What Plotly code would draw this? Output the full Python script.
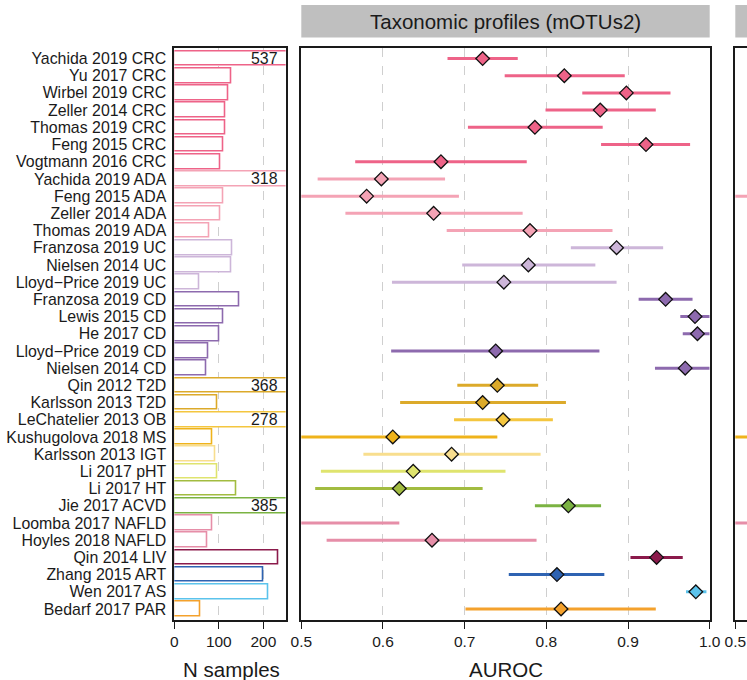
import plotly.graph_objects as go

# ---------------- data ----------------
names = ["Yachida 2019 CRC", "Yu 2017 CRC", "Wirbel 2019 CRC", "Zeller 2014 CRC",
         "Thomas 2019 CRC", "Feng 2015 CRC", "Vogtmann 2016 CRC", "Yachida 2019 ADA",
         "Feng 2015 ADA", "Zeller 2014 ADA", "Thomas 2019 ADA", "Franzosa 2019 UC",
         "Nielsen 2014 UC", "Lloyd\u2212Price 2019 UC", "Franzosa 2019 CD", "Lewis 2015 CD",
         "He 2017 CD", "Lloyd\u2212Price 2019 CD", "Nielsen 2014 CD", "Qin 2012 T2D",
         "Karlsson 2013 T2D", "LeChatelier 2013 OB", "Kushugolova 2018 MS",
         "Karlsson 2013 IGT", "Li 2017 pHT", "Li 2017 HT", "Jie 2017 ACVD",
         "Loomba 2017 NAFLD", "Hoyles 2018 NAFLD", "Qin 2014 LIV", "Zhang 2015 ART",
         "Wen 2017 AS", "Bedarf 2017 PAR"]

groups = ["CRC"] * 7 + ["ADA"] * 4 + ["UC"] * 3 + ["CD"] * 5 + \
         ["T2D", "T2D", "OB", "MS", "IGT", "pHT", "HT", "ACVD",
          "NAFLD", "NAFLD", "LIV", "ART", "AS", "PAR"]

n_samples = [537, 128, 121, 114, 115, 109, 104, 318, 110, 103, 79, 131, 129, 56,
             145, 110, 102, 76, 72, 368, 96, 278, 85, 92, 97, 140, 385, 86, 73,
             233, 200, 212, 59]

auroc = [0.722, 0.822, 0.898, 0.866, 0.786, 0.922, 0.671, 0.598, 0.580, 0.662,
         0.780, 0.886, 0.778, 0.748, 0.946, 0.982, 0.985, 0.738, 0.970, 0.740,
         0.722, 0.747, 0.612, 0.684, 0.637, 0.620, 0.827, 0.470, 0.660, 0.935,
         0.813, 0.983, 0.818]
ci_low = [0.679, 0.749, 0.844, 0.799, 0.704, 0.867, 0.566, 0.520, 0.460, 0.554,
          0.678, 0.830, 0.697, 0.611, 0.913, 0.964, 0.967, 0.610, 0.933, 0.691,
          0.621, 0.687, 0.450, 0.576, 0.524, 0.517, 0.786, 0.320, 0.531, 0.903,
          0.754, 0.971, 0.701]
ci_high = [0.765, 0.896, 0.952, 0.934, 0.869, 0.976, 0.776, 0.676, 0.693, 0.771,
           0.881, 0.943, 0.860, 0.886, 0.979, 1.000, 1.000, 0.865, 1.000, 0.790,
           0.824, 0.808, 0.740, 0.793, 0.750, 0.722, 0.867, 0.620, 0.788, 0.967,
           0.871, 0.996, 0.934]

# third (cut-off) panel: only the rows whose intervals reach into view
p3_rows = ["Feng 2015 ADA", "Kushugolova 2018 MS", "Loomba 2017 NAFLD"]
p3_low = [0.46, 0.45, 0.44]
p3_high = [0.66, 0.70, 0.63]
p3_auroc = [0.56, 0.58, 0.54]

group_colors = {
    "CRC": "#EE6388", "ADA": "#F4A3B5", "UC": "#CDB6D9", "CD": "#8D6AAE",
    "T2D": "#DCAA2A", "OB": "#F4C63F", "MS": "#EFB31B", "IGT": "#F8DE8E",
    "pHT": "#DFE46E", "HT": "#A2BC40", "ACVD": "#7BB342", "NAFLD": "#E68EA8",
    "LIV": "#8B1A4B", "ART": "#2E63B2", "AS": "#5BC3EC", "PAR": "#F4A12C",
}

panel_title = "Taxonomic profiles (mOTUs2)"
bar_ticks = [0, 100, 200]
auc_ticks = [0.5, 0.6, 0.7, 0.8, 0.9, 1.0]

# ---------------- figure ----------------
W, H = 747, 680
FONT = "Liberation Sans, Arial, Helvetica, sans-serif"


def px(x):
    return x / W


def py(y):
    return 1 - y / H


rows = list(range(len(names)))
colors = [group_colors[g] for g in groups]
yr = [len(names) - 1 + 0.64, -0.64]

fig = go.Figure()

fig.add_trace(go.Bar(
    x=n_samples, y=rows, orientation="h", width=0.85,
    marker=dict(color="white", line=dict(color=colors, width=1.6)),
    xaxis="x", yaxis="y", showlegend=False, hoverinfo="skip"))

for i in rows:
    fig.add_trace(go.Scatter(
        x=[ci_low[i], ci_high[i]], y=[i, i], mode="lines",
        line=dict(color=colors[i], width=3),
        xaxis="x2", yaxis="y2", showlegend=False, hoverinfo="skip"))

fig.add_trace(go.Scatter(
    x=auroc, y=rows, mode="markers", cliponaxis=True,
    marker=dict(symbol="diamond", size=10.5, color=colors,
                line=dict(color="#111111", width=1.3)),
    xaxis="x2", yaxis="y2", showlegend=False, hoverinfo="skip"))

for j, nm in enumerate(p3_rows):
    i = names.index(nm)
    fig.add_trace(go.Scatter(
        x=[p3_low[j], p3_high[j]], y=[i, i], mode="lines",
        line=dict(color=colors[i], width=3),
        xaxis="x3", yaxis="y3", showlegend=False, hoverinfo="skip"))
    fig.add_trace(go.Scatter(
        x=[p3_auroc[j]], y=[i], mode="markers", cliponaxis=True,
        marker=dict(symbol="diamond", size=10.5, color=colors[i],
                    line=dict(color="#111111", width=1.3)),
        xaxis="x3", yaxis="y3", showlegend=False, hoverinfo="skip"))

ydom = [py(620), py(47.5)]
frame = dict(showline=True, linecolor="#1a1a1a", linewidth=1.7, zeroline=False,
             automargin=False)
tickfont = dict(family=FONT, size=15.5, color="#1a1a1a")

layout = dict(
    width=W, height=H, margin=dict(l=0, r=0, t=0, b=0, pad=0, autoexpand=False),
    paper_bgcolor="white", plot_bgcolor="white",
    font=dict(family=FONT, color="#1a1a1a"),
    bargap=0,
    xaxis=dict(domain=[px(174.3), px(285.6)], range=[0, 250], anchor="y",
               tickvals=bar_ticks, ticks="outside", ticklen=7, tickwidth=1.3,
               tickcolor="#1a1a1a", mirror=True, showgrid=True,
               gridcolor="#cfcfcf", griddash="dash", gridwidth=1,
               tickfont=tickfont, **frame),
    yaxis=dict(domain=ydom, range=yr, anchor="x", tickvals=rows, ticktext=names,
               ticks="", ticklabelstandoff=3, mirror=True, showgrid=False,
               tickfont=dict(family=FONT, size=15.9, color="#1a1a1a"), **frame),
    xaxis2=dict(domain=[px(301.3), px(709.7)], range=[0.5, 1.0], anchor="y2",
                tickvals=auc_ticks, ticktext=[f"{v:.1f}" for v in auc_ticks],
                ticks="outside", ticklen=7, tickwidth=1.3, tickcolor="#1a1a1a",
                mirror=True, showgrid=True, gridcolor="#cfcfcf", griddash="dash",
                gridwidth=1, tickfont=tickfont, **frame),
    yaxis2=dict(domain=ydom, range=yr, anchor="x2", showticklabels=False,
                ticks="", mirror=True, showgrid=False, **frame),
    xaxis3=dict(domain=[px(735.3), 1], range=[0.5, 0.5 + (W - 735.3) / 816.8],
                anchor="y3", tickvals=[0.5], ticktext=["0.5"], ticks="outside",
                ticklen=7, tickwidth=1.3, tickcolor="#1a1a1a", mirror=True,
                showgrid=False, tickfont=tickfont, **frame),
    yaxis3=dict(domain=ydom, range=yr, anchor="x3", showticklabels=False,
                ticks="", mirror=False, showgrid=False, **frame),
)
fig.update_layout(**layout)

shapes = [
    dict(type="rect", xref="paper", yref="paper", x0=px(301.3), x1=px(709.7),
         y0=py(37.5), y1=py(5), fillcolor="#BFBFBF", line=dict(width=0), layer="below"),
    dict(type="rect", xref="paper", yref="paper", x0=px(735.3), x1=1,
         y0=py(37.5), y1=py(5), fillcolor="#BFBFBF", line=dict(width=0), layer="below"),
]
fig.update_layout(shapes=shapes)

ann = [
    dict(text=panel_title, xref="paper", yref="paper", x=px(505.5), y=py(21.5),
         showarrow=False, xanchor="center", yanchor="middle",
         font=dict(family=FONT, size=20.5, color="#1a1a1a")),
    dict(text="N samples", xref="paper", yref="paper", x=px(231), y=py(669.5),
         showarrow=False, xanchor="center", yanchor="middle",
         font=dict(family=FONT, size=20.5, color="#1a1a1a")),
    dict(text="AUROC", xref="paper", yref="paper", x=px(505.5), y=py(669.5),
         showarrow=False, xanchor="center", yanchor="middle",
         font=dict(family=FONT, size=20.5, color="#1a1a1a")),
]
for i in rows:
    if n_samples[i] > 250:
        ann.append(dict(text=str(n_samples[i]), xref="x", yref="y", x=250, y=i,
                        showarrow=False, xanchor="right", yanchor="middle",
                        xshift=-6, font=dict(family=FONT, size=15.9, color="#1a1a1a")))
fig.update_layout(annotations=ann)

fig.write_html("out.html")
